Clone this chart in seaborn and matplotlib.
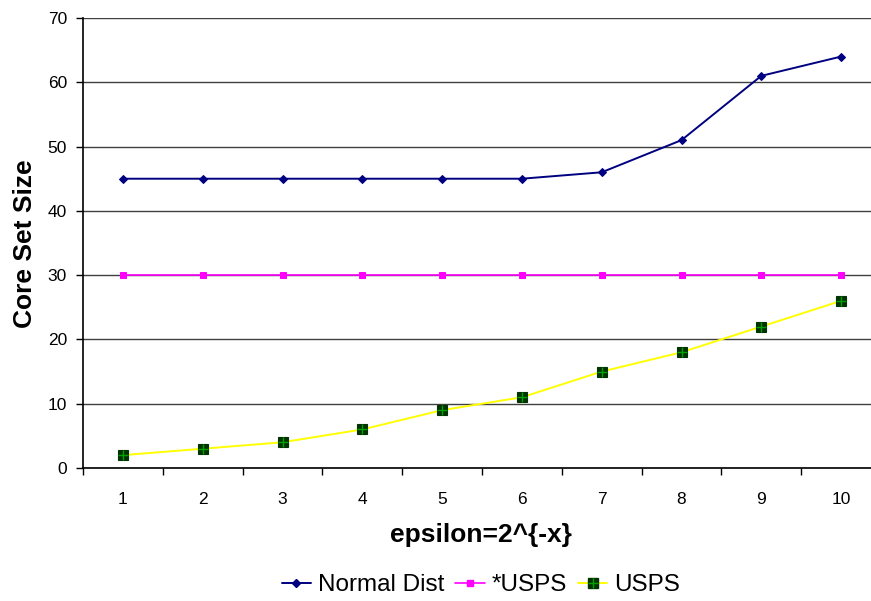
import matplotlib
matplotlib.use("Agg")
import matplotlib.pyplot as plt
import seaborn as sns
import pandas as pd
from matplotlib.lines import Line2D

x_vals = [1, 2, 3, 4, 5, 6, 7, 8, 9, 10]
normal_dist = [45, 45, 45, 45, 45, 45, 46, 51, 61, 64]
star_usps = [30, 30, 30, 30, 30, 30, 30, 30, 30, 30]
usps = [2, 3, 4, 6, 9, 11, 15, 18, 22, 26]
series_names = ["Normal Dist", "*USPS", "USPS"]
y_ticks = [0, 10, 20, 30, 40, 50, 60, 70]

sns.set_theme(style="white")
plt.rcParams["font.family"] = ["Liberation Sans", "DejaVu Sans"]
plt.rcParams["text.color"] = "black"
plt.rcParams["axes.labelcolor"] = "black"
plt.rcParams["xtick.color"] = "black"
plt.rcParams["ytick.color"] = "black"

fig = plt.figure(figsize=(8.71, 6.01), dpi=100)
ax = fig.add_axes([83 / 871, (601 - 468) / 601, (871 - 83) / 871, 450 / 601])

df = pd.DataFrame({"x": x_vals * 3,
                   "y": normal_dist + star_usps + usps,
                   "series": [series_names[0]] * 10 + [series_names[1]] * 10 + [series_names[2]] * 10})

navy = "#000080"
magenta = "#FF00FF"
yellow = "#FFFF00"
dgreen = "#003300"
green = "#00A000"

sns.lineplot(data=df[df.series == series_names[0]], x="x", y="y", ax=ax, color=navy,
             lw=1.4, marker="D", markersize=4.5, markeredgecolor=navy, markerfacecolor=navy,
             legend=False, zorder=4)
sns.lineplot(data=df[df.series == series_names[1]], x="x", y="y", ax=ax, color=magenta,
             lw=1.2, marker="s", markersize=4.5, markeredgecolor=magenta, markerfacecolor=magenta,
             legend=False, zorder=4)
sns.lineplot(data=df[df.series == series_names[2]], x="x", y="y", ax=ax, color=yellow,
             lw=1.4, marker="s", markersize=7.5, markeredgecolor=dgreen, markerfacecolor=dgreen,
             markeredgewidth=0.8, legend=False, zorder=4)
ax.plot(x_vals, usps, linestyle="none", marker="+", markersize=6.5, color=green,
        markeredgewidth=1.0, zorder=5)

ax.set_yticks(y_ticks)
ax.set_yticklabels([str(v) for v in y_ticks], fontsize=12.5)
ax.set_xticks(x_vals)
ax.set_xticklabels([str(v) for v in x_vals], fontsize=12.5)
ax.set_xticks([i + 0.5 for i in range(0, 10)], minor=True)
ax.set_xlim(0.5, 0.5 + (871 - 83) / 79.8)
ax.set_ylim(0, 70)
ax.tick_params(axis="x", which="major", length=0, pad=17, colors="black")
ax.tick_params(axis="x", which="minor", length=5, width=1, color="black", direction="out", bottom=True)
ax.tick_params(axis="y", which="major", length=5, width=1, color="black", direction="out", left=True,
               pad=6.5, labelcolor="black")

ax.yaxis.grid(True, color="#404040", lw=1)
ax.xaxis.grid(False)
ax.set_axisbelow(True)
for s in ["top", "right"]:
    ax.spines[s].set_visible(False)
ax.spines["left"].set_color("black")
ax.spines["bottom"].set_color("black")
ax.spines["left"].set_linewidth(1.2)
ax.spines["bottom"].set_linewidth(1.2)

ax.set_xlabel("epsilon=2^{-x}", fontsize=19, fontweight="bold", color="black")
ax.set_ylabel("Core Set Size", fontsize=19, fontweight="bold", color="black")
ax.xaxis.set_label_coords((481 - 83) / 788, (468 - 535) / 450)
ax.yaxis.set_label_coords((25 - 83) / 788, (468 - 244) / 450)
ax.xaxis.label.set_va("center")
ax.yaxis.label.set_va("center")

h1 = Line2D([], [], color=navy, lw=1.4, marker="D", markersize=4.5, markerfacecolor=navy, markeredgecolor=navy)
h2 = Line2D([], [], color=magenta, lw=1.2, marker="s", markersize=4.5, markerfacecolor=magenta, markeredgecolor=magenta)
h3a = Line2D([], [], color=yellow, lw=1.4, marker="s", markersize=7.5, markerfacecolor=dgreen, markeredgecolor=dgreen)
h3b = Line2D([], [], linestyle="none", marker="+", markersize=6.5, color=green, markeredgewidth=1.0)
leg = fig.legend([h1, h2, (h3a, h3b)], series_names, loc="center", bbox_to_anchor=(481 / 871, 1 - 585 / 601),
                 ncol=3, frameon=False, fontsize=17.5, handlelength=1.2, handletextpad=0.3, columnspacing=0.45)
for t in leg.get_texts():
    t.set_color("black")

fig.savefig("out.png", dpi=100)
